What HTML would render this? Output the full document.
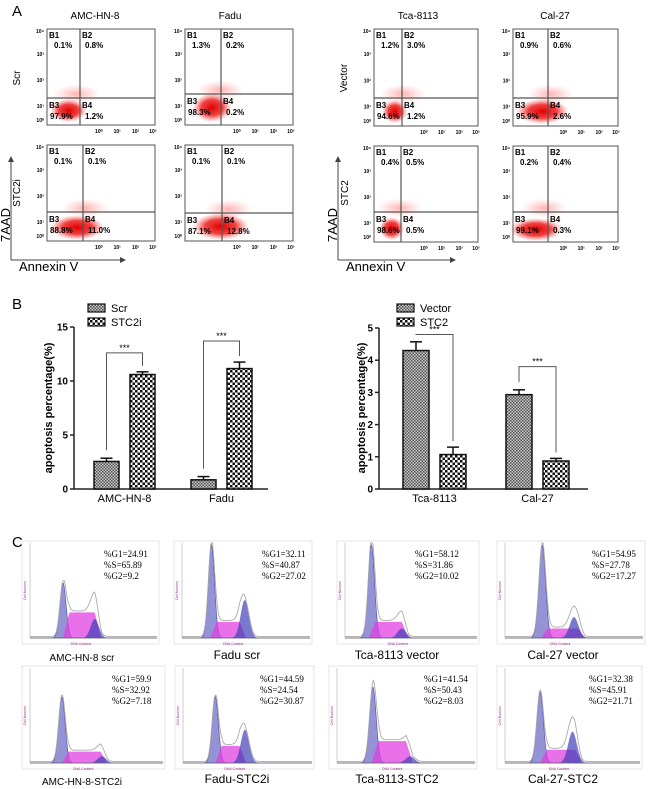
<!DOCTYPE html>
<html><head><meta charset="utf-8"><style>
body{margin:0;background:#fff;}
svg{display:block;font-family:"Liberation Sans",Arial,sans-serif;}
</style></head><body>
<svg id="fig" width="650" height="789" viewBox="0 0 650 789" xmlns="http://www.w3.org/2000/svg">
<defs>
<pattern id="fine" width="3" height="3" patternUnits="userSpaceOnUse"><rect width="3" height="3" fill="#c8c8c8"/><rect width="1.5" height="1.5" fill="#555"/><rect x="1.5" y="1.5" width="1.5" height="1.5" fill="#555"/></pattern>
<pattern id="coarse" width="5" height="5" patternUnits="userSpaceOnUse"><rect width="5" height="5" fill="#fff"/><rect width="2.5" height="2.5" fill="#111"/><rect x="2.5" y="2.5" width="2.5" height="2.5" fill="#111"/></pattern>
<radialGradient id="cloud"><stop offset="0" stop-color="#e00000" stop-opacity="1"/><stop offset="0.55" stop-color="#ee2020" stop-opacity="0.85"/><stop offset="1" stop-color="#ff6060" stop-opacity="0"/></radialGradient>
<radialGradient id="haze"><stop offset="0" stop-color="#ff5050" stop-opacity="0.45"/><stop offset="1" stop-color="#ff8080" stop-opacity="0"/></radialGradient>
<marker id="arr" markerWidth="6" markerHeight="6" refX="5" refY="3" orient="auto"><path d="M0,0 L6,3 L0,6 z" fill="#444"/></marker>
</defs>
<g id="panelA"></g>
<g id="panelB"></g>
<g id="panelC"></g>
</svg>
<script>
const NS='http://www.w3.org/2000/svg';
function el(tag,attrs,parent,text){const e=document.createElementNS(NS,tag);for(const k in attrs)e.setAttribute(k,attrs[k]);if(text!==undefined)e.textContent=text;parent.appendChild(e);return e;}

// ===== Panel A data =====
const flowTitles=['AMC-HN-8','Fadu','Tca-8113','Cal-27'];
const flowRowLabels=['Scr','STC2i','Vector','STC2'];
const flowB1=[ '0.1%','1.3%','0.1%','0.1%','1.2%','0.9%','0.4%','0.2%'];
const flowB2=[ '0.8%','0.2%','0.1%','0.1%','3.0%','0.6%','0.5%','0.4%'];
const flowB3=['97.9%','98.3%','88.8%','87.1%','94.6%','95.9%','98.6%','99.1%'];
const flowB4=[ '1.2%','0.2%','11.0%','12.8%','1.2%','2.6%','0.5%','0.3%'];
const flowBox=[[47,29,108,96,80,98],[185,29,108,96,221,94],[47,145,108,96,83,212],[185,145,108,96,222,213],
               [374,29,104,97,402,98],[513,29,105,97,548,98],[374,146,104,96,401,212],[513,146,105,96,548,212]];
const flowClouds=[[0.2,0.85,0.17,0.12],[0.25,0.82,0.18,0.15],[0.28,0.86,0.25,0.13],[0.33,0.85,0.26,0.14],
                  [0.2,0.85,0.12,0.12],[0.28,0.85,0.25,0.13],[0.17,0.86,0.12,0.12],[0.22,0.87,0.25,0.12]];
const A=document.getElementById('panelA');
let t=el('text',{x:12,y:16,'font-size':15},A,'A');
const titleX=[95,230,418,555];
flowTitles.forEach((s,i)=>{const e=el('text',{x:titleX[i],y:19,'font-size':10,'text-anchor':'middle'},A,s);});
[[20,78,0],[20,193,1],[347,78,2],[348,193,3]].forEach(r=>{const e=el('text',{x:r[0],y:r[1],'font-size':10,'text-anchor':'middle',transform:`rotate(-90 ${r[0]} ${r[1]})`},A,flowRowLabels[r[2]]);});
[[11,338],[338,455]].forEach((p,i)=>{
  const ax=i?338:11, end=i?455:125;
  let l=el('line',{x1:ax,y1:260,x2:ax,y2:157,stroke:'#444','stroke-width':1,'marker-end':'url(#arr)'},A);
  l=el('line',{x1:ax,y1:260,x2:end,y2:260,stroke:'#444','stroke-width':1,'marker-end':'url(#arr)'},A);
  let e=el('text',{x:ax-1,y:225,'font-size':13,'text-anchor':'middle',transform:`rotate(-90 ${ax-1} 225)`},A,'7AAD');
  e=el('text',{x:ax+8,y:271,'font-size':13},A,'Annexin V');
});
const yTickLab=['10⁴','10³','10²','10¹','10⁰'];const yTickF=[0.02,0.26,0.53,0.8,0.95];
const xTickLab=['10⁰','10¹','10²','10³'];const xTickF=[0.48,0.65,0.82,0.98];
flowBox.forEach((b,i)=>{
  const [x,y,w,h,vx,hy]=b;
  const g=el('g',{},A);
  const c=flowClouds[i];
  el('ellipse',{cx:x+w*c[0]+8,cy:hy-4,rx:w*0.22,ry:h*0.1,fill:'url(#haze)'},g);
  el('ellipse',{cx:x+w*c[0],cy:y+h*c[1],rx:w*c[2],ry:h*c[3],fill:'url(#cloud)'},g);
  el('rect',{x:x,y:y,width:w,height:h,fill:'none',stroke:'#555','stroke-width':1},g);
  el('line',{x1:vx,y1:y,x2:vx,y2:y+h,stroke:'#555','stroke-width':1.2},g);
  el('line',{x1:x,y1:hy,x2:x+w,y2:hy,stroke:'#555','stroke-width':1.2},g);
  yTickLab.forEach((s,k)=>el('text',{x:x-3,y:y+h*yTickF[k]+2,'font-size':5,'text-anchor':'end','font-weight':'bold'},g,s));
  xTickLab.forEach((s,k)=>el('text',{x:x+w*xTickF[k],y:y+h+8,'font-size':5,'text-anchor':'middle','font-weight':'bold'},g,s));
  const fs={'font-size':8,'font-weight':'bold'};
  el('text',{x:x+2,y:y+9,...fs},g,'B1');el('text',{x:x+7,y:y+19,...fs},g,flowB1[i]);
  el('text',{x:vx+2,y:y+9,...fs},g,'B2');el('text',{x:vx+5,y:y+19,...fs},g,flowB2[i]);
  el('text',{x:x+2,y:hy+10,...fs},g,'B3');el('text',{x:x+3,y:hy+21,...fs},g,flowB3[i]);
  el('text',{x:vx+2,y:hy+10,...fs},g,'B4');el('text',{x:vx+5,y:hy+21,...fs},g,flowB4[i]);
});

// ===== Panel B data =====
const leftCats=['AMC-HN-8','Fadu'];
const leftSeries=['Scr','STC2i'];
const leftScr=[2.55,0.85];
const leftScrErr=[0.3,0.3];
const leftSTC2i=[10.6,11.15];
const leftSTC2iErr=[0.25,0.6];
const leftBracket=[12.6,13.7];
const leftTicks=[0,5,10,15];
const rightCats=['Tca-8113','Cal-27'];
const rightSeries=['Vector','STC2'];
const rightVector=[4.3,2.93];
const rightVectorErr=[0.27,0.15];
const rightSTC2=[1.07,0.87];
const rightSTC2Err=[0.23,0.08];
const rightBracket=[4.8,3.8];
const rightTicks=[0,1,2,3,4,5];
const B=document.getElementById('panelB');
t=el('text',{x:12,y:309,'font-size':15},B,'B');

function barChart(o){
  const g=el('g',{},B);
  const y=v=>o.y0-(v/o.max)*(o.y0-o.yTop);
  el('line',{x1:o.ax,y1:o.y0,x2:o.ax,y2:o.yTop,stroke:'#222','stroke-width':1.5},g);
  el('line',{x1:o.ax,y1:o.y0,x2:o.axEnd,y2:o.y0,stroke:'#222','stroke-width':1.5},g);
  o.ticks.forEach(v=>{el('line',{x1:o.ax-4,y1:y(v),x2:o.ax,y2:y(v),stroke:'#222','stroke-width':1.5},g);
    const e=el('text',{x:o.ax-6,y:y(v)+3.5,'font-size':10,'font-weight':'bold','text-anchor':'end'},g,String(v));});
  let e=el('text',{x:o.labX,y:408,'font-size':11,'font-weight':'bold','text-anchor':'middle',transform:`rotate(-90 ${o.labX} 408)`},g,'apoptosis percentage(%)');
  o.cats.forEach((c,i)=>{
    const x1=o.groupX[i], x2=x1+o.bw+o.gap;
    [[x1,o.a[i],o.aErr[i],'url(#fine)'],[x2,o.b[i],o.bErr[i],'url(#coarse)']].forEach((d,k)=>{
      const r=el('rect',{x:d[0],y:y(d[1]),width:o.bw,height:o.y0-y(d[1]),fill:d[3],stroke:'#111','stroke-width':1.5},g);
      
      const cx=d[0]+o.bw/2, top=y(d[1]+d[2]);
      el('line',{x1:cx,y1:y(d[1]),x2:cx,y2:top,stroke:'#111','stroke-width':1.5},g);
      el('line',{x1:cx-6,y1:top,x2:cx+6,y2:top,stroke:'#111','stroke-width':1.5},g);
    });
    const by=y(o.brk[i]);const ca=x1+o.bw/2, cb=x2+o.bw/2;
    const p=el('path',{d:`M${ca},${y(o.a[i]+o.aErr[i])-8}V${by}H${cb}V${y(o.b[i]+o.bErr[i])-6}`,fill:'none',stroke:'#555','stroke-width':1},g);
    e=el('text',{x:(ca+cb)/2,y:by-2,'font-size':9,'text-anchor':'middle'},g,'***');
    e=el('text',{x:(x1+x2+o.bw)/2,y:502,'font-size':11,'text-anchor':'middle'},g,c);
  });
  o.series.forEach((s,k)=>{
    const lg=el('g',{},g);
    el('rect',{x:o.legX,y:o.legY+k*14-4,width:17,height:8,fill:k?'url(#coarse)':'url(#fine)',stroke:'#111','stroke-width':1.2},lg);
    el('text',{x:o.legX+23,y:o.legY+k*14+4,'font-size':11},lg,s);
  });
}
barChart({name:'left-bar-chart',ax:74,axEnd:268,y0:489,yTop:327,max:15,ticks:leftTicks,labX:52,cats:leftCats,series:leftSeries,
  a:leftScr,aErr:leftScrErr,b:leftSTC2i,bErr:leftSTC2iErr,brk:leftBracket,groupX:[94,191],bw:25,gap:11,legX:88,legY:308});
barChart({name:'right-bar-chart',ax:379,axEnd:588,y0:489,yTop:328,max:5,ticks:rightTicks,labX:365,cats:rightCats,series:rightSeries,
  a:rightVector,aErr:rightVectorErr,b:rightSTC2,bErr:rightSTC2Err,brk:rightBracket,groupX:[403,506],bw:26,gap:11,legX:397,legY:308});

// ===== Panel C data =====
const histLabels=['AMC-HN-8 scr','Fadu scr','Tca-8113 vector','Cal-27 vector','AMC-HN-8-STC2i','Fadu-STC2i','Tca-8113-STC2','Cal-27-STC2'];
const histG1=['24.91','32.11','58.12','54.95','59.9','44.59','41.54','32.38'];
const histS=['65.89','40.87','31.86','27.78','32.92','24.54','50.43','45.91'];
const histG2=['9.2','27.02','10.02','17.27','7.18','30.87','8.03','21.71'];
const histG1Pos=[0.26,0.23,0.2,0.27,0.24,0.25,0.26,0.26];
const histG1H=[0.58,0.98,0.98,0.98,0.7,0.7,0.8,0.75];
const histSStart=[0.29,0.25,0.21,0.29,0.27,0.28,0.28,0.29];
const histSEnd=[0.53,0.47,0.45,0.55,0.55,0.46,0.52,0.54];
const histSH=[0.27,0.17,0.17,0.1,0.12,0.18,0.23,0.14];
const histG2Pos=[0.51,0.49,0.43,0.5,0.54,0.48,0.53,0.5];
const histG2H=[0.2,0.4,0.1,0.22,0.07,0.35,0.07,0.33];
const histBox=[[30,543,127,95],[182,543,128,95],[345,543,132,95],[505,543,138,95],[30,668,133,95],[183,668,129,95],[337,668,138,95],[505,668,135,95]];
const histText=[[104,557],[262,557],[415,557],[592,557],[112,682],[260,682],[424,682],[589,682]];
const histLabelPos=[[82,661],[237,659],[397,659],[563,659],[82,785],[237,783],[397,783],[563,783]];
const C=document.getElementById('panelC');
t=el('text',{x:12,y:547,'font-size':15},C,'C');
const gauss=(x,m,s)=>Math.exp(-((x-m)*(x-m))/(2*s*s));
histBox.forEach((b,i)=>{
  const [x,y,w,h]=b;const g=el('g',{},C);
  el('rect',{x:x-8,y:y-2,width:w+10,height:h+8,fill:'none',stroke:'#e4e4e4','stroke-width':1},g);
  const base=y+h;const px=f=>x+f*w, py=v=>base-v*h;
  const N=160;let g1='',sP='',g2='',tot='';
  for(let k=0;k<=N;k++){const f=k/N;
    const a=histG1H[i]*gauss(f,histG1Pos[i],0.024);
    const sv=f<histSStart[i]-0.03||f>histSEnd[i]+0.03?0:histSH[i]*Math.min(1,(f-histSStart[i]+0.03)/0.05,(histSEnd[i]+0.03-f)/0.05);
    const c=histG2H[i]*gauss(f,histG2Pos[i],0.032);
    g1+=`${px(f)},${py(a)} `;sP+=`${px(f)},${py(sv)} `;g2+=`${px(f)},${py(c)} `;tot+=`${px(f)},${py(Math.min(1,a+sv+c+0.015))} `;}
  el('polygon',{points:`${x},${base} ${g1} ${x+w},${base}`,fill:'#6f6fc8','fill-opacity':0.75,stroke:'#4848a8','stroke-width':0.6},g);
  el('polygon',{points:`${x},${base} ${sP} ${x+w},${base}`,fill:'#e040e0','fill-opacity':0.75},g);
  el('polygon',{points:`${x},${base} ${g2} ${x+w},${base}`,fill:'#4040b8','fill-opacity':0.7},g);
  el('polyline',{points:tot,fill:'none',stroke:'#aaa','stroke-width':0.9},g);
  el('line',{x1:x,y1:base,x2:x+w,y2:base,stroke:'#666','stroke-width':0.8},g);
  el('line',{x1:x,y1:y,x2:x,y2:base,stroke:'#999','stroke-width':0.5},g);
  el('text',{x:x-4,y:y+h/2,'font-size':3.5,fill:'#a03090','text-anchor':'middle',transform:`rotate(-90 ${x-4} ${y+h/2})`},g,'Cell Number');
  el('text',{x:x+w*0.4,y:base+7,'font-size':3.5,fill:'#a03090','text-anchor':'middle'},g,'DNA Content');
  const tx=histText[i];const ts={'font-size':9,'font-family':'"Liberation Serif",serif'};
  el('text',{x:tx[0],y:tx[1],...ts},g,'%G1='+histG1[i]);
  el('text',{x:tx[0],y:tx[1]+11,...ts},g,'%S='+histS[i]);
  el('text',{x:tx[0],y:tx[1]+22,...ts},g,'%G2='+histG2[i]);
  const lp=histLabelPos[i];
  const e=el('text',{x:lp[0],y:lp[1],'font-size':i%4===0?10:12,'text-anchor':'middle'},C,histLabels[i]);
  
});
</script>
</body></html>
